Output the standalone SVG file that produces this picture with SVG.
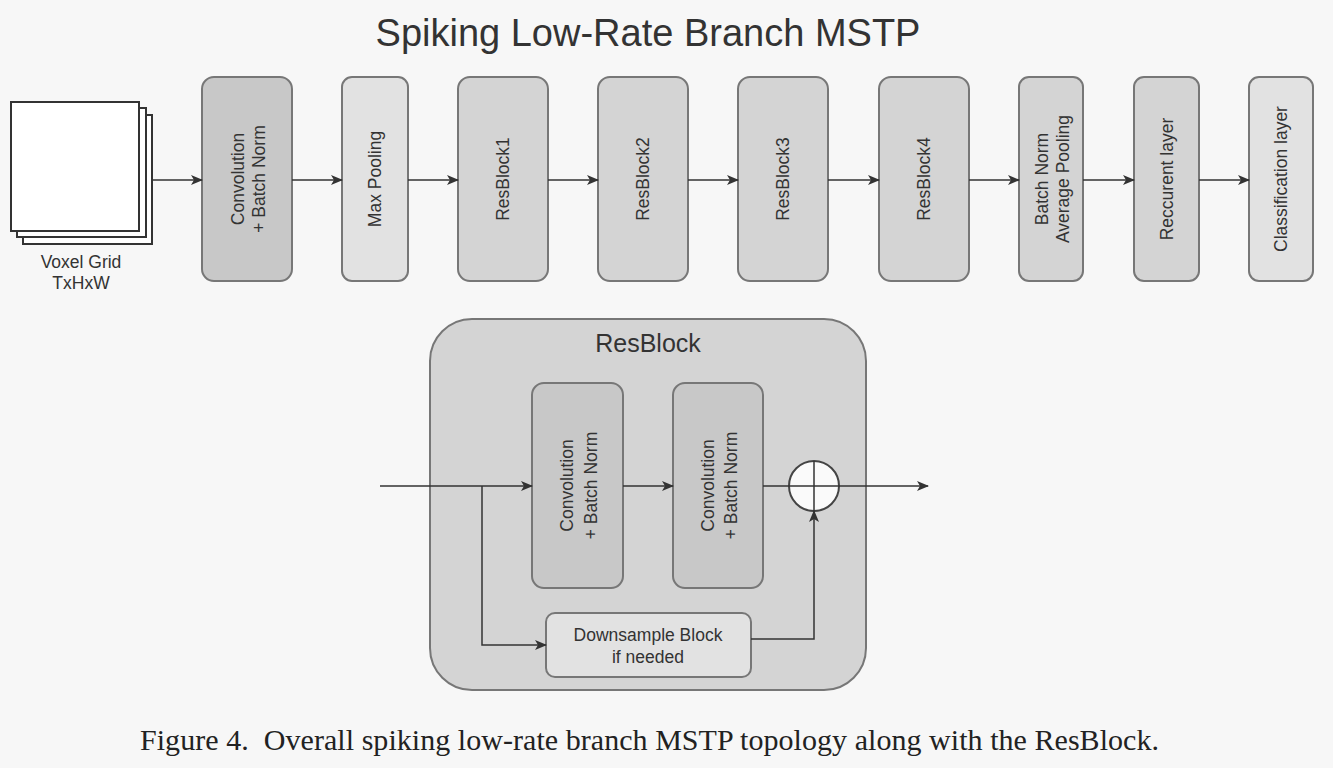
<svg xmlns="http://www.w3.org/2000/svg" width="1333" height="768" viewBox="0 0 1333 768">
<defs>
<marker id="arr" viewBox="0 0 12 10" refX="11" refY="5" markerWidth="12" markerHeight="10" markerUnits="userSpaceOnUse" orient="auto">
<path d="M0,0 L12,5 L0,10 L3,5 z" fill="#333"/>
</marker>
<style>
.n{stroke:#777;stroke-width:2}
.dark{fill:#c8c8c8}
.mid{fill:#d4d4d4}
.light{fill:#e2e2e2}
.t{font-family:"Liberation Sans",Arial,sans-serif;font-size:17.5px;fill:#333;text-anchor:middle}
.c{stroke:#333;stroke-width:1.5;fill:none}
.ca{stroke:#333;stroke-width:1.5;fill:none;marker-end:url(#arr)}
</style>
</defs>
<rect width="1333" height="768" fill="#f7f7f7"/>
<text x="648" y="46" font-family="Liberation Sans,Arial,sans-serif" font-size="38" fill="#333" text-anchor="middle">Spiking Low-Rate Branch MSTP</text>

<g id="voxel">
<rect x="23" y="115" width="129" height="129" fill="#fff" stroke="#333" stroke-width="2"/>
<rect x="17" y="108" width="129" height="129" fill="#fff" stroke="#333" stroke-width="2"/>
<rect x="11" y="102" width="128" height="129" fill="#fff" stroke="#333" stroke-width="2"/>
<text class="t" x="81" y="268">Voxel Grid</text>
<text class="t" x="81" y="289">TxHxW</text>
</g>

<g id="conv">
<rect class="n dark" x="202" y="77" width="90" height="204" rx="12"/>
<text class="t" transform="translate(248,179) rotate(-90)"><tspan x="0" y="-4.5">Convolution</tspan><tspan x="0" y="17">+ Batch Norm</tspan></text>
</g>
<g id="maxpool">
<rect class="n light" x="342" y="77" width="66" height="204" rx="10"/>
<text class="t" transform="translate(375,179) rotate(-90)" y="6">Max Pooling</text>
</g>
<g id="resblock1">
<rect class="n mid" x="458" y="77" width="90" height="204" rx="12"/>
<text class="t" transform="translate(503,179) rotate(-90)" y="6">ResBlock1</text>
</g>
<g id="resblock2">
<rect class="n mid" x="598" y="77" width="90" height="204" rx="12"/>
<text class="t" transform="translate(643,179) rotate(-90)" y="6">ResBlock2</text>
</g>
<g id="resblock3">
<rect class="n mid" x="738" y="77" width="90" height="204" rx="12"/>
<text class="t" transform="translate(783,179) rotate(-90)" y="6">ResBlock3</text>
</g>
<g id="resblock4">
<rect class="n mid" x="879" y="77" width="90" height="204" rx="12"/>
<text class="t" transform="translate(924,179) rotate(-90)" y="6">ResBlock4</text>
</g>
<g id="bnavg">
<rect class="n mid" x="1019" y="77" width="64" height="204" rx="10"/>
<text class="t" transform="translate(1052,179) rotate(-90)"><tspan x="0" y="-4.5">Batch Norm</tspan><tspan x="0" y="16.5">Average Pooling</tspan></text>
</g>
<g id="recurrent">
<rect class="n mid" x="1134" y="77" width="65" height="204" rx="10"/>
<text class="t" transform="translate(1166.5,179) rotate(-90)" y="6">Reccurent layer</text>
</g>
<g id="classification">
<rect class="n light" x="1249" y="77" width="64" height="204" rx="10"/>
<text class="t" transform="translate(1281,179) rotate(-90)" y="6">Classification layer</text>
</g>

<g id="resblock">
<rect class="n mid" x="430" y="319" width="436" height="371" rx="42"/>
<text x="648" y="352" font-family="Liberation Sans,Arial,sans-serif" font-size="25" fill="#333" text-anchor="middle">ResBlock</text>
</g>
<g id="rb-conv1">
<rect class="n dark" x="532" y="383" width="91" height="205" rx="12"/>
<text class="t" transform="translate(579,485.5) rotate(-90)"><tspan x="0" y="-6">Convolution</tspan><tspan x="0" y="17.5">+ Batch Norm</tspan></text>
</g>
<g id="rb-conv2">
<rect class="n dark" x="673" y="383" width="90" height="205" rx="12"/>
<text class="t" transform="translate(719.5,485.5) rotate(-90)"><tspan x="0" y="-6">Convolution</tspan><tspan x="0" y="17.5">+ Batch Norm</tspan></text>
</g>
<g id="downsample">
<rect class="n light" x="546" y="613" width="205" height="64" rx="9"/>
<text class="t" x="648" y="641">Downsample Block</text>
<text class="t" x="648" y="663">if needed</text>
</g>
<g id="sum">
<circle cx="814" cy="486" r="25" fill="#fafafa" stroke="#444" stroke-width="2"/>
<line class="c" x1="814" y1="461" x2="814" y2="511"/>
</g>

<g id="connectors">
<line class="ca" x1="152" y1="180" x2="202" y2="180"/>
<line class="ca" x1="292" y1="180" x2="342" y2="180"/>
<line class="ca" x1="408" y1="180" x2="458" y2="180"/>
<line class="ca" x1="548" y1="180" x2="598" y2="180"/>
<line class="ca" x1="688" y1="180" x2="738" y2="180"/>
<line class="ca" x1="828" y1="180" x2="879" y2="180"/>
<line class="ca" x1="969" y1="180" x2="1019" y2="180"/>
<line class="ca" x1="1083" y1="180" x2="1134" y2="180"/>
<line class="ca" x1="1199" y1="180" x2="1249" y2="180"/>
<line class="ca" x1="380" y1="486" x2="532" y2="486"/>
<line class="ca" x1="623" y1="486" x2="673" y2="486"/>
<line class="ca" x1="763" y1="486" x2="928" y2="486"/>
<polyline class="ca" points="482,486 482,645 546,645"/>
<polyline class="ca" points="751,639 814,639 814,511"/>
</g>

<text x="140" y="750" xml:space="preserve" font-family="Liberation Serif,Times New Roman,serif" font-size="30" fill="#222" textLength="1019" lengthAdjust="spacing">Figure 4.  Overall spiking low-rate branch MSTP topology along with the ResBlock.</text>
</svg>
